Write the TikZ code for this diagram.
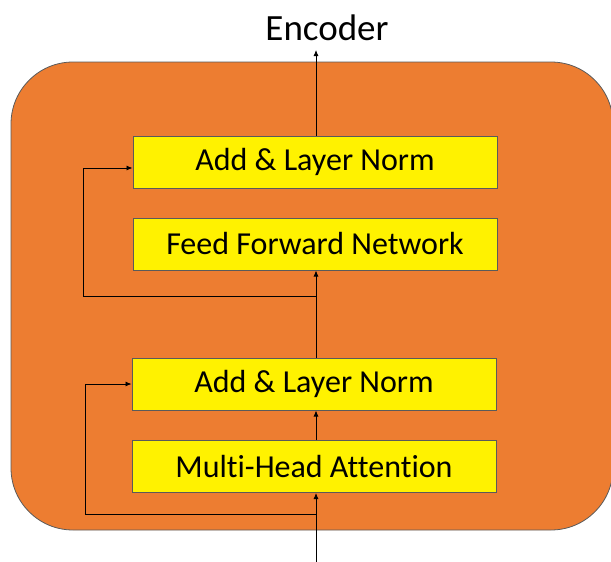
\documentclass[tikz,border=0pt]{standalone}
\usepackage{fontspec}
\setmainfont{Carlito}[Ligatures=NoCommon]
\usetikzlibrary{arrows.meta}
\definecolor{encorange}{HTML}{ED7D31}
\definecolor{edgegray}{HTML}{5A5A5A}

\begin{document}
\begin{tikzpicture}[x=1pt,y=-1pt,
  layer/.style={draw=edgegray,fill=yellow,line width=1pt,minimum width=364pt,minimum height=52pt,inner sep=0pt,font=\fontsize{32}{36}\selectfont},
  flow/.style={line width=0.8pt,-{Latex[length=6pt,width=5pt]}}]

\useasboundingbox (0,0) rectangle (611,562);

\draw[fill=encorange,draw=edgegray,line width=0.8pt,rounded corners=62pt] (11,62) rectangle (613,530);

\node[layer] (norm2) at (315,162) {Add \& Layer Norm};
\node[layer] (ffn) at (315,244) {Feed Forward Network};

\node[layer] (norm1) at (314,384) {Add \& Layer Norm};
\node[layer] (mha) at (314,466.5) {Multi-Head Attention};

\node[font=\fontsize{37}{40}\selectfont] (enc) at (327,28) {Encoder};

\coordinate (in) at (316,562);
\coordinate (b1) at (316,514);
\coordinate (b2) at (316,296);
\coordinate (out) at (316,50);

% main path
\draw[flow] (in) -- (in |- mha.south);
\draw[flow] (b1 |- mha.north) -- (b1 |- norm1.south);
\draw[flow] (b1 |- norm1.north) -- (b1 |- ffn.south);
\draw[flow] (b1 |- norm2.north) -- (out);

% residual connections
\draw[flow] (b1) -- (85,514) |- (norm1.west);
\draw[flow] (b2) -- (83,296) |- ([yshift=-6pt]norm2.west);

\end{tikzpicture}
\end{document}
